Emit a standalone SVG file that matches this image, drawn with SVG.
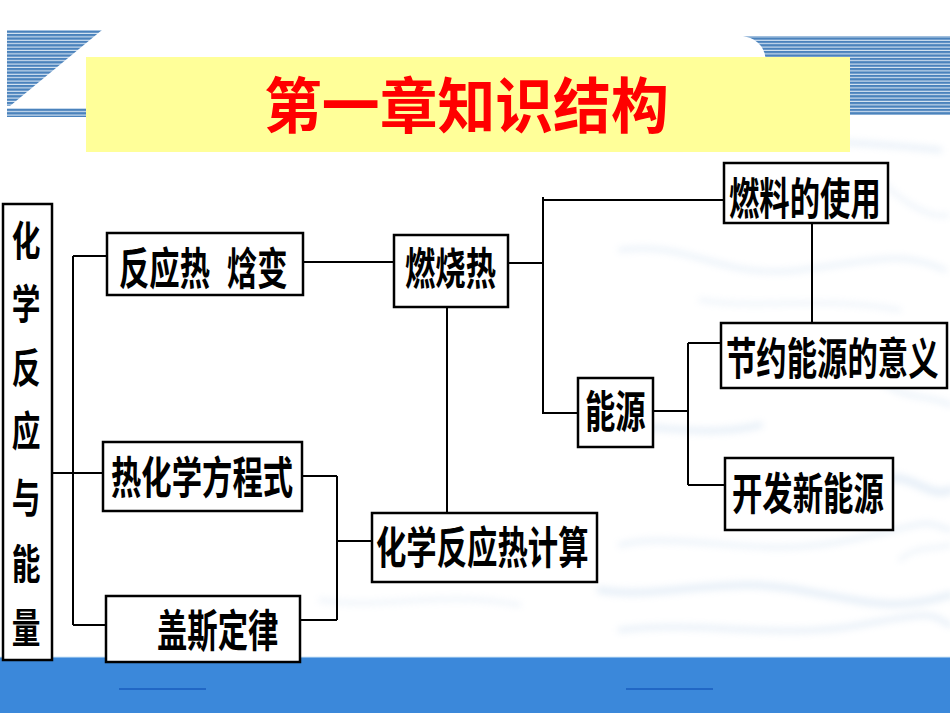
<svg xmlns="http://www.w3.org/2000/svg" width="950" height="713" viewBox="0 0 950 713">
<style>
.box{fill:#ffffff;stroke:#000000;stroke-width:2.5}
.lbl{font-family:"Noto Sans CJK SC","Noto Sans",sans-serif;font-weight:700;font-size:44px;fill:#000000}
.vl{font-family:"Noto Sans CJK SC","Noto Sans",sans-serif;font-weight:700;font-size:41px;fill:#000000}
.title{font-family:"Noto Sans CJK SC","Noto Sans",sans-serif;font-weight:700;font-size:60px;fill:#ff0000}
.conn path{fill:none;stroke:#000000;stroke-width:2}
.wash{fill:none;stroke:#b3cde8;stroke-linecap:round}
</style>
<defs>
<pattern id="stripes" patternUnits="userSpaceOnUse" width="8" height="3.4">
<rect x="0" y="0" width="8" height="3.4" fill="#dbe8f4"/>
<rect x="0" y="0" width="8" height="2.3" fill="#4a82bc"/>
</pattern>
<filter id="blur" x="-20%" y="-20%" width="140%" height="140%">
<feGaussianBlur stdDeviation="3.5"/>
</filter>
</defs>

<rect x="0" y="0" width="950" height="713" fill="#ffffff"/>

<g id="texture" filter="url(#blur)" opacity="0.32">
<path class="wash" stroke-width="5" d="M600,140 C680,150 760,130 940,150"/>
<path class="wash" stroke-width="3" d="M880,180 C900,200 930,220 948,215"/>
<path class="wash" stroke-width="4" d="M620,250 C690,240 720,280 800,270 S900,250 945,270"/>
<path class="wash" stroke-width="3" d="M700,300 C760,310 820,295 900,310"/>
<path class="wash" stroke-width="6" d="M600,430 C650,420 700,440 760,425"/>
<path class="wash" stroke-width="8" d="M880,480 C910,470 930,500 950,490"/>
<path class="wash" stroke-width="4" d="M620,545 C680,530 760,560 850,540 S920,520 950,530"/>
<path class="wash" stroke-width="7" d="M600,590 C660,600 720,575 800,590 S900,610 950,595"/>
<path class="wash" stroke-width="5" d="M620,630 C700,620 780,640 860,625 S930,615 950,625"/>
<path class="wash" stroke-width="3" d="M320,600 C380,610 440,590 520,605"/>
<path class="wash" stroke-width="4" d="M880,380 C900,400 935,395 950,405"/>
<path class="wash" stroke-width="3" d="M900,560 C915,545 935,550 950,545"/>
</g>

<g id="banner-left">
<polygon points="7,30 102,30 10,106 7,106" fill="url(#stripes)"/>
<rect x="7" y="108" width="85" height="9" fill="url(#stripes)"/>
</g>
<g id="banner-right">
<path d="M743,36 H950 V115 H850 V60 H766 Q764,40 743,36 Z" fill="url(#stripes)"/>
</g>

<g id="title">
<rect x="86" y="57" width="764" height="95" fill="#ffff99"/>
<text class="title" transform="translate(264,128) scale(0.964,1)">第一章知识结构</text>
</g>

<g id="footer">
<rect x="0" y="657" width="950" height="56" fill="#3b88da"/>
<line x1="0" y1="657" x2="950" y2="657" stroke="#cfe6f7" stroke-width="1"/>
<line x1="119" y1="689" x2="206" y2="689" stroke="#1a5cbe" stroke-width="1.5"/>
<line x1="626" y1="689" x2="713" y2="689" stroke="#1a5cbe" stroke-width="1.5"/>
</g>

<g id="connectors" class="conn">
<path d="M52,473 H103"/>
<path d="M73,256 V625"/>
<path d="M73,256 H107"/>
<path d="M73,625 H106"/>
<path d="M303,262 H394"/>
<path d="M302,476 H337"/>
<path d="M337,476 V620"/>
<path d="M300,620 H337"/>
<path d="M337,541 H372"/>
<path d="M447,307 V513"/>
<path d="M508,263 H543"/>
<path d="M543,197 V414"/>
<path d="M543,200 H724"/>
<path d="M543,413 H578"/>
<path d="M653,411 H688"/>
<path d="M688,343 V485"/>
<path d="M688,343 H721"/>
<path d="M688,485 H725"/>
<path d="M812,223 V323"/>
</g>

<g id="node-root">
<rect class="box" x="3" y="204" width="49" height="456"/>
<text class="vl" text-anchor="middle" transform="translate(26,256) scale(0.7,1)">化</text>
<text class="vl" text-anchor="middle" transform="translate(26,319) scale(0.7,1)">学</text>
<text class="vl" text-anchor="middle" transform="translate(26,383) scale(0.7,1)">反</text>
<text class="vl" text-anchor="middle" transform="translate(26,446) scale(0.7,1)">应</text>
<text class="vl" text-anchor="middle" transform="translate(26,513) scale(0.7,1)">与</text>
<text class="vl" text-anchor="middle" transform="translate(26,579) scale(0.7,1)">能</text>
<text class="vl" text-anchor="middle" transform="translate(26,643) scale(0.7,1)">量</text>
</g>

<g id="node-reaction-heat">
<rect class="box" x="107" y="233" width="196" height="62"/>
<text class="lbl" transform="translate(119,285) scale(0.69,1)">反应热</text>
<text class="lbl" transform="translate(227,285) scale(0.69,1)">焓变</text>
</g>

<g id="node-thermo-eq">
<rect class="box" x="103" y="442" width="199" height="69"/>
<text class="lbl" transform="translate(111,494) scale(0.69,1)">热化学方程式</text>
</g>

<g id="node-hess">
<rect class="box" x="106" y="596" width="194" height="66"/>
<text class="lbl" transform="translate(157,647) scale(0.69,1)">盖斯定律</text>
</g>

<g id="node-combustion">
<rect class="box" x="394" y="235" width="114" height="72"/>
<text class="lbl" transform="translate(405,285) scale(0.69,1)">燃烧热</text>
</g>

<g id="node-calc">
<rect class="box" x="372" y="513" width="225" height="69"/>
<text class="lbl" transform="translate(376,564) scale(0.69,1)">化学反应热计算</text>
</g>

<g id="node-fuel">
<rect class="box" x="724" y="163" width="164" height="60"/>
<text class="lbl" transform="translate(729,215) scale(0.69,1)">燃料的使用</text>
</g>

<g id="node-energy">
<rect class="box" x="578" y="378" width="75" height="69"/>
<text class="lbl" transform="translate(585,428) scale(0.69,1)">能源</text>
</g>

<g id="node-saving">
<rect class="box" x="721" y="323" width="226" height="65"/>
<text class="lbl" transform="translate(726,375) scale(0.69,1)">节约能源的意义</text>
</g>

<g id="node-new-energy">
<rect class="box" x="725" y="458" width="168" height="72"/>
<text class="lbl" transform="translate(732,510) scale(0.69,1)">开发新能源</text>
</g>
</svg>
